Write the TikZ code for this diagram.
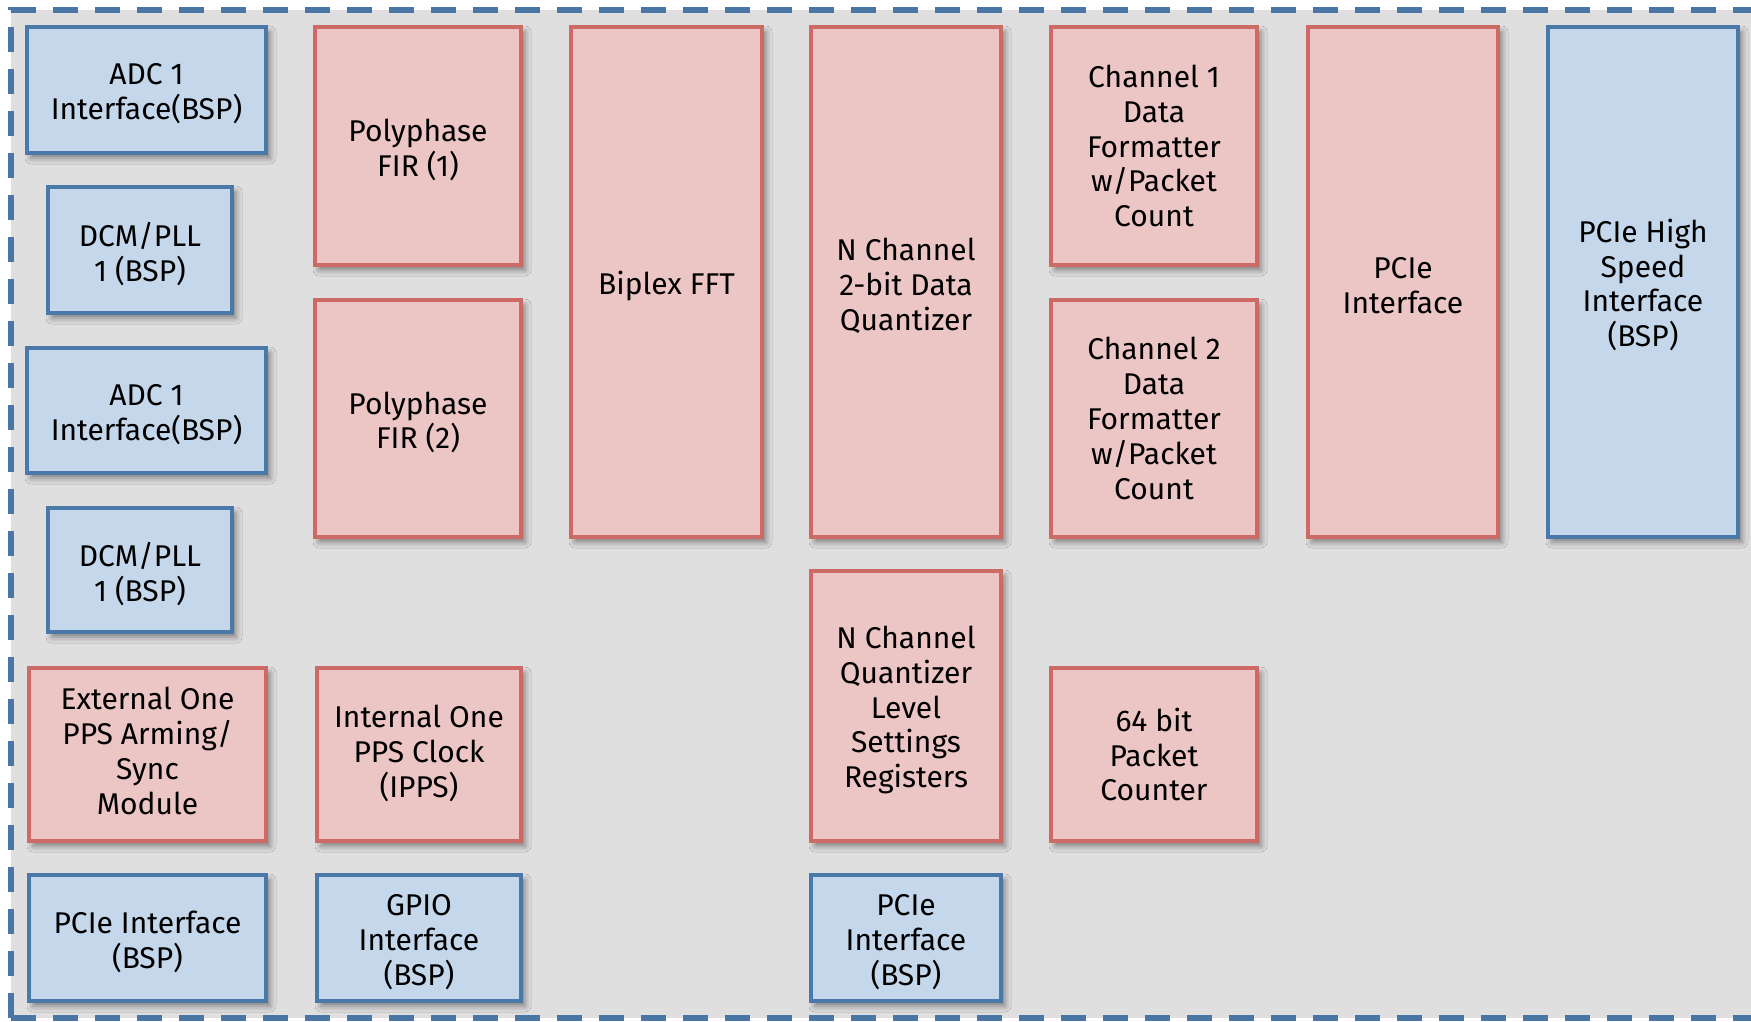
\documentclass[tikz,border=0pt]{standalone}
\usepackage{fontspec}
\setmainfont{Fira Sans}
\usetikzlibrary{shadows.blur}

\definecolor{redfill}{HTML}{ECC5C5}
\definecolor{redline}{HTML}{CD6A66}
\definecolor{bluefill}{HTML}{C5D7EB}
\definecolor{blueline}{HTML}{4A78A8}
\definecolor{panelbg}{HTML}{DFDFDF}
\definecolor{panelline}{HTML}{4A76A6}

% a block given by its outer corners (x1,y1) and (x2,y2), in pixels;
% the optional argument moves its label down by that many pixels
\newcommand\mkblock[8][4]{%
  \node[#2, minimum width={(#6-#4-4)*0.5pt}, minimum height={(#7-#5-4)*0.5pt}]
    (#3) at ({(#4+#6)/2},{(#5+#7)/2}) {};
  \node[blocktext] (#3-text) at ({(#4+#6)/2},{(#5+#7)/2+#1}) {#8};}

\begin{document}
\begin{tikzpicture}[x=0.5pt, y=-0.5pt,
  block/.style={rectangle, line width=2pt, inner sep=0pt,
    blur shadow={shadow xshift=2pt, shadow yshift=-2.5pt, shadow blur radius=3pt, shadow opacity=45}},
  blocktext/.style={inner sep=0pt, align=center, font=\fontsize{15}{17.4}\selectfont},
  redblock/.style={block, draw=redline, fill=redfill},
  blueblock/.style={block, draw=blueline, fill=bluefill},
  panel/.style={draw=panelline, line width=3pt, dash pattern=on 12.5pt off 8.5pt}]

\useasboundingbox (0,0) rectangle (1751,1022);
\fill[white] (0,0) rectangle (1751,1022);
\fill[panelbg] (11,10) rectangle (1760,1018);
\draw[panel] (11,1018) -- (11,10) -- (1760,10);
\draw[panel] (11,1018) -- (1760,1018);

% first column
\mkblock{blueblock}{adca}{25}{25}{268}{155}{ADC 1\\Interface(BSP)}
\mkblock{blueblock}{dcma}{46}{185}{234}{315}{DCM/PLL\\1 (BSP)}
\mkblock{blueblock}{adcb}{25}{346}{268}{475}{ADC 1\\Interface(BSP)}
\mkblock{blueblock}{dcmb}{46}{506}{234}{634}{DCM/PLL\\1 (BSP)}
\mkblock[-3.4]{redblock}{extpps}{27}{666}{268}{843}{External One\\PPS Arming/\\Sync\\Module}
\mkblock{blueblock}{pcieleft}{27}{873}{268}{1003}{PCIe Interface\\(BSP)}

% second column
\mkblock{redblock}{fira}{313}{25}{523}{267}{Polyphase\\FIR (1)}
\mkblock{redblock}{firb}{313}{298}{523}{539}{Polyphase\\FIR (2)}
\mkblock[-1]{redblock}{ipps}{315}{666}{523}{843}{Internal One\\PPS Clock\\(IPPS)}
\mkblock{blueblock}{gpio}{315}{873}{523}{1003}{GPIO\\Interface\\(BSP)}

% FFT and quantizer
\mkblock{redblock}{fft}{569}{25}{764}{539}{Biplex FFT}
\mkblock[3.5]{redblock}{quant}{809}{25}{1003}{539}{N Channel\\2-bit Data\\Quantizer}
\mkblock{redblock}{qregs}{809}{569}{1003}{843}{N Channel\\Quantizer\\Level\\Settings\\Registers}
\mkblock{blueblock}{pciemid}{809}{873}{1003}{1003}{PCIe\\Interface\\(BSP)}

% formatters and counter
\mkblock[0]{redblock}{fmta}{1049}{25}{1259}{267}{Channel 1\\Data\\Formatter\\w/Packet\\Count}
\mkblock[0]{redblock}{fmtb}{1049}{298}{1259}{539}{Channel 2\\Data\\Formatter\\w/Packet\\Count}
\mkblock[0]{redblock}{pktcnt}{1049}{666}{1259}{843}{64 bit\\Packet\\Counter}

% PCIe blocks
\mkblock{redblock}{pcie}{1306}{25}{1500}{539}{PCIe\\Interface}
\mkblock[3]{blueblock}{pciehs}{1546}{25}{1740}{539}{PCIe High\\Speed\\Interface\\(BSP)}
\end{tikzpicture}
\end{document}
